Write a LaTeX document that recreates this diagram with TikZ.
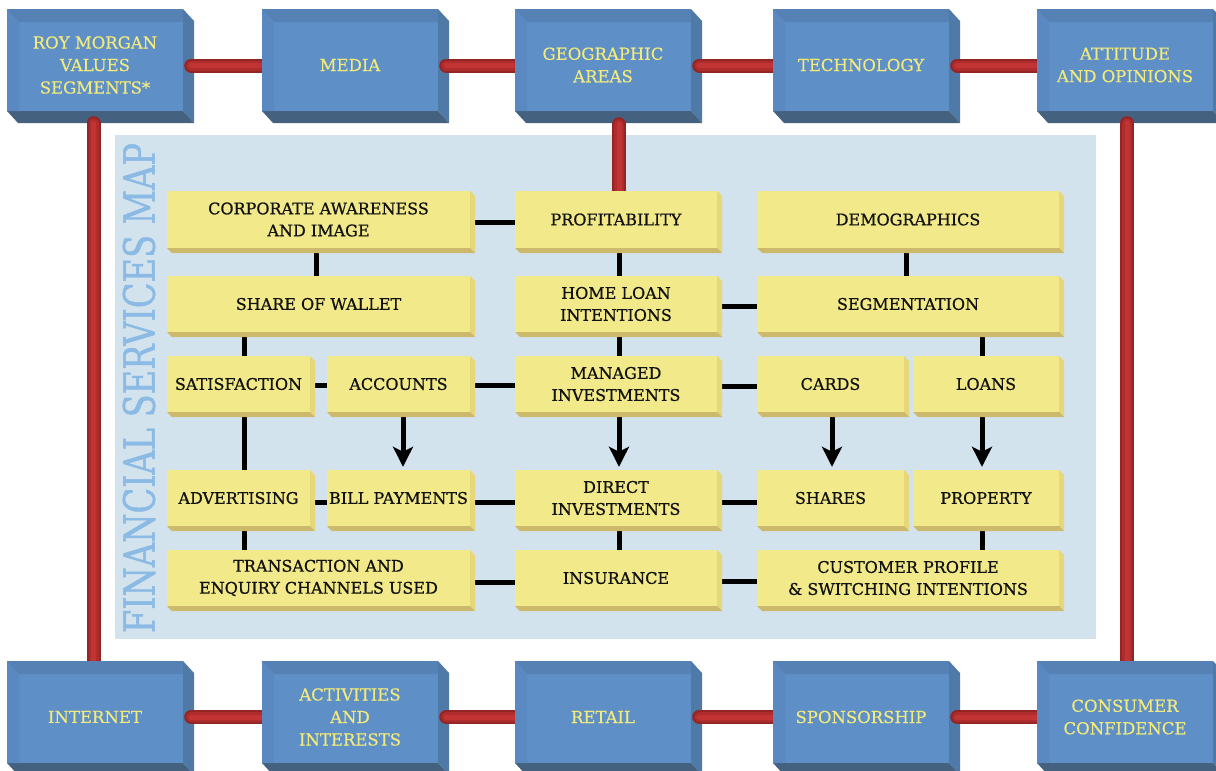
\documentclass[tikz,border=0pt]{standalone}
\usepackage{fontspec}
\usepackage{graphicx}
\setmainfont{DejaVu Serif}
\newfontfamily\yfont{DejaVu Serif}[FakeBold=0.8]
\newfontfamily\bfontx{DejaVu Serif}[FakeBold=0.3]
\newfontfamily\tfontx{DejaVu Serif}[FakeBold=1.2]
\usetikzlibrary{arrows.meta,calc}
\definecolor{panelc}{HTML}{D3E3EE}
\definecolor{titlec}{HTML}{8BBAE4}
\definecolor{bF}{HTML}{5E8FC7}
\definecolor{bT}{HTML}{5581B5}
\definecolor{bL}{HTML}{5A89C1}
\definecolor{bR}{HTML}{4F79A7}
\definecolor{bB}{HTML}{44617F}
\definecolor{btxt}{HTML}{F2EB7C}
\definecolor{yF}{HTML}{F2E98A}
\definecolor{yR}{HTML}{E6D77A}
\definecolor{yB}{HTML}{CDB96B}
\definecolor{rbA}{HTML}{932525}
\definecolor{rbB}{HTML}{AE2C2C}
\definecolor{rbC}{HTML}{C23434}
\pgfdeclarelayer{bg}
\pgfdeclarelayer{connl}
\pgfsetlayers{bg,connl,main}
\newcommand\bluebox[4]{%
  \fill[bR] (#2+176,#3) -- (#2+187,#3+12) -- (#2+187,#3+114) -- (#2+176,#3+102) -- cycle;
  \fill[bB] (#2,#3+102) -- (#2+176,#3+102) -- (#2+187,#3+114) -- (#2+11,#3+114) -- cycle;
  \node[bfront] (#1) at (#2+88,#3+51) {};
  \fill[bT] (#2,#3) -- (#2+176,#3) -- (#2+176,#3+13) -- (#2+12,#3+13) -- cycle;
  \fill[bL] (#2,#3) -- (#2+12,#3+13) -- (#2+12,#3+102) -- (#2,#3+102) -- cycle;
  \node[btext] (#1t) at (#2+88,#3+56) {#4};
}
\newcommand\ybox[6]{%
  \fill[yR] (#4,#3) -- (#4+5,#3+5) -- (#4+5,#5+5) -- (#4,#5) -- cycle;
  \fill[yB] (#2,#5) -- (#4,#5) -- (#4+5,#5+5) -- (#2+5,#5+5) -- cycle;
  \node[yfront, minimum width={(#4-#2)*1pt}, minimum height={(#5-#3)*1pt}] (#1) at ({(#2+#4)/2},{(#3+#5)/2}) {#6};
}
\newcommand\redbar[2]{%
  \foreach \w/\c in {14/rbA,10/rbB,5/rbC}{%
    \draw[line width=\w pt,\c,line cap=round] (#1) -- ($(#1)!0.5!(#2)$);
    \draw[line width=\w pt,\c,line cap=butt] ($(#1)!0.5!(#2)$) -- (#2);
  }%
}
\begin{document}
\begin{tikzpicture}[x=1pt,y=-1pt,
  bfront/.style={fill=bF,draw=none,minimum width=176pt,minimum height=102pt,inner sep=0pt},
  btext/.style={text=btxt,align=center,inner sep=0pt,font=\bfontx\fontsize{16.5}{22.5}\selectfont},
  yfront/.style={fill=yF,draw=none,inner sep=0pt,align=center,text=black!93,font=\yfont\fontsize{16}{22}\selectfont},
  conn/.style={line width=5pt,black},
  arr/.style={line width=5pt,black,-{Stealth[length=20pt,width=20pt,inset=5pt]}},
  titlest/.style={text=titlec,inner sep=0pt,font=\tfontx}]
\useasboundingbox (0,0) rectangle (1216,771);
\begin{pgfonlayer}{bg}
\fill[white] (0,0) rectangle (1216,771);
\fill[panelc] (115,135) rectangle (1096,639);
\node[titlest,rotate=90] (title) at (139,388) {\resizebox{490pt}{32pt}{FINANCIAL SERVICES MAP}};
\end{pgfonlayer}
% blue boxes
\bluebox{rm}{7}{9}{ROY MORGAN\\VALUES\\SEGMENTS*}
\bluebox{media}{262}{9}{MEDIA}
\bluebox{geo}{515}{9}{GEOGRAPHIC\\AREAS}
\bluebox{tech}{773}{9}{TECHNOLOGY}
\bluebox{att}{1037}{9}{ATTITUDE\\AND OPINIONS}
\bluebox{inet}{7}{661}{INTERNET}
\bluebox{act}{262}{661}{ACTIVITIES\\AND\\INTERESTS}
\bluebox{retail}{515}{661}{RETAIL}
\bluebox{spons}{773}{661}{SPONSORSHIP}
\bluebox{cons}{1037}{661}{CONSUMER\\CONFIDENCE}
% yellow boxes
\ybox{corp}{167}{191}{470}{248}{CORPORATE AWARENESS\\AND IMAGE}
\ybox{prof}{515}{191}{717}{248}{PROFITABILITY}
\ybox{demo}{757}{191}{1059}{248}{DEMOGRAPHICS}
\ybox{share}{167}{276}{470}{332}{SHARE OF WALLET}
\ybox{home}{515}{276}{717}{332}{HOME LOAN\\INTENTIONS}
\ybox{seg}{757}{276}{1059}{332}{SEGMENTATION}
\ybox{sat}{167}{356}{310}{412}{SATISFACTION}
\ybox{acc}{327}{356}{470}{412}{ACCOUNTS}
\ybox{man}{515}{356}{717}{412}{MANAGED\\INVESTMENTS}
\ybox{cards}{757}{356}{904}{412}{CARDS}
\ybox{loans}{913}{356}{1059}{412}{LOANS}
\ybox{adv}{167}{470}{310}{526}{ADVERTISING}
\ybox{bill}{327}{470}{470}{526}{BILL PAYMENTS}
\ybox{dir}{515}{470}{717}{526}{DIRECT\\INVESTMENTS}
\ybox{shares}{757}{470}{904}{526}{SHARES}
\ybox{prop}{913}{470}{1059}{526}{PROPERTY}
\ybox{trans}{167}{550}{470}{606}{TRANSACTION AND\\ENQUIRY CHANNELS USED}
\ybox{ins}{515}{550}{717}{606}{INSURANCE}
\ybox{cust}{757}{550}{1059}{606}{CUSTOMER PROFILE\\\& SWITCHING INTENTIONS}
% black connectors
\begin{pgfonlayer}{connl}
\draw[conn] ([shift={(0,2.5)}]corp.center) -- ([shift={(0,2.5)}]prof.center);
\draw[conn] ([shift={(0,2)}]home.center) -- ([shift={(0,2)}]seg.center);
\draw[conn] ([shift={(0,1)}]sat.center) -- ([shift={(0,1)}]acc.center);
\draw[conn] ([shift={(0,1)}]acc.center) -- ([shift={(0,1)}]man.center);
\draw[conn] ([shift={(0,2)}]man.center) -- ([shift={(0,2)}]cards.center);
\draw[conn] ([shift={(0,4)}]adv.center) -- ([shift={(0,4)}]bill.center);
\draw[conn] ([shift={(0,4)}]bill.center) -- ([shift={(0,4)}]dir.center);
\draw[conn] ([shift={(0,4)}]dir.center) -- ([shift={(0,4)}]shares.center);
\draw[conn] ([shift={(0,4)}]trans.center) -- ([shift={(0,4)}]ins.center);
\draw[conn] ([shift={(0,3)}]ins.center) -- ([shift={(0,3)}]cust.center);
\draw[conn] ([shift={(-2.5,0)}]corp.center) -- ([shift={(-2.5,0)}]share.center);
\draw[conn] ([shift={(3,0)}]prof.center) -- ([shift={(3,0)}]home.center);
\draw[conn] ([shift={(3,0)}]home.center) -- ([shift={(3,0)}]man.center);
\draw[conn] ([shift={(3,0)}]dir.center) -- ([shift={(3,0)}]ins.center);
\draw[conn] ([shift={(-2,0)}]demo.center) -- ([shift={(-2,0)}]seg.center);
\draw[conn] ([shift={(5.5,0)}]sat.center) -- ([shift={(5.5,0)}]sat.center |- share.center);
\draw[conn] ([shift={(5.5,0)}]sat.center) -- ([shift={(5.5,0)}]adv.center);
\draw[conn] ([shift={(5.5,0)}]adv.center) -- ([shift={(5.5,0)}]adv.center |- trans.center);
\draw[conn] ([shift={(-4,0)}]loans.center) -- ([shift={(-4,0)}]loans.center |- seg.center);
\draw[conn] ([shift={(-4,0)}]prop.center) -- ([shift={(-4,0)}]prop.center |- cust.center);
\draw[arr] ([shift={(4.5,0)}]acc.center) -- ([shift={(4.5,-3)}]bill.north);
\draw[arr] ([shift={(3,0)}]man.center) -- ([shift={(3,-3)}]dir.north);
\draw[arr] ([shift={(1.5,0)}]cards.center) -- ([shift={(1.5,-3)}]shares.north);
\draw[arr] ([shift={(-4,0)}]loans.center) -- ([shift={(-4,-3)}]prop.north);
\end{pgfonlayer}
% red bars
\coordinate (r1a) at ([shift={(8,5.5)}]rm.east);   \coordinate (r1b) at (media.west |- r1a);
\coordinate (r2a) at ([shift={(8,5.5)}]media.east); \coordinate (r2b) at (geo.west |- r2a);
\coordinate (r3a) at ([shift={(8,5.5)}]geo.east);   \coordinate (r3b) at (tech.west |- r3a);
\coordinate (r4a) at ([shift={(8,5.5)}]tech.east);  \coordinate (r4b) at (att.west |- r4a);
\coordinate (r5a) at ([shift={(8,5)}]inet.east);    \coordinate (r5b) at (act.west |- r5a);
\coordinate (r6a) at ([shift={(8,5)}]act.east);     \coordinate (r6b) at (retail.west |- r6a);
\coordinate (r7a) at ([shift={(8,5)}]retail.east);  \coordinate (r7b) at (spons.west |- r7a);
\coordinate (r8a) at ([shift={(8,5)}]spons.east);   \coordinate (r8b) at (cons.west |- r8a);
\coordinate (v1a) at ([shift={(-1.5,12)}]rm.south); \coordinate (v1b) at (v1a |- inet.north);
\coordinate (v2a) at ([shift={(2,12)}]att.south);   \coordinate (v2b) at (v2a |- cons.north);
\coordinate (v3a) at ([shift={(16,13)}]geo.south);  \coordinate (v3b) at (v3a |- prof.north);
\redbar{r1a}{r1b}\redbar{r2a}{r2b}\redbar{r3a}{r3b}\redbar{r4a}{r4b}
\redbar{r5a}{r5b}\redbar{r6a}{r6b}\redbar{r7a}{r7b}\redbar{r8a}{r8b}
\redbar{v1a}{v1b}\redbar{v2a}{v2b}\redbar{v3a}{v3b}
\end{tikzpicture}
\end{document}
